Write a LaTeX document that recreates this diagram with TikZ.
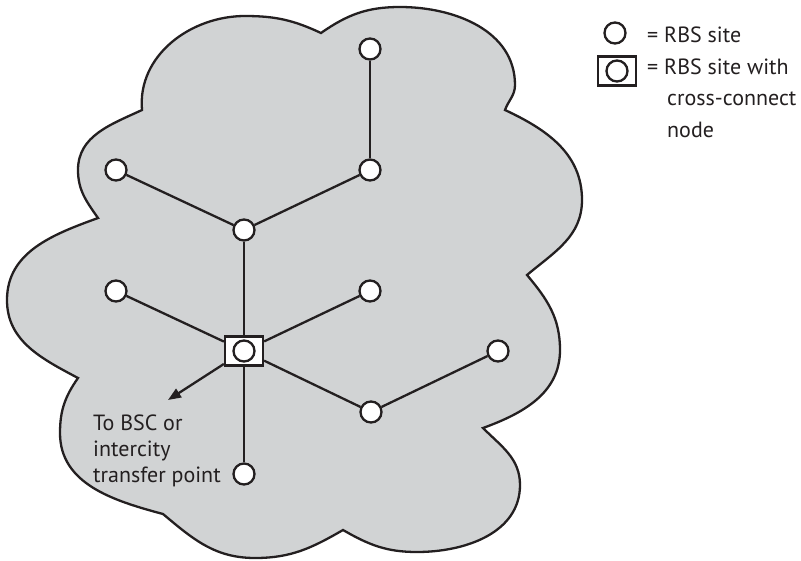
\documentclass[tikz,border=0pt]{standalone}
\usepackage{fontspec}
\setmainfont{PT Sans}
\usetikzlibrary{arrows.meta}
\definecolor{cloudgray}{RGB}{209,211,212}
\definecolor{ink}{RGB}{35,31,32}
\begin{document}
\begin{tikzpicture}[x=1pt,y=-1pt,
  site/.style={circle,draw=ink,fill=white,line width=2.3pt,inner sep=0pt,minimum size=21pt},
  xbox/.style={rectangle,draw=ink,fill=white,line width=2.3pt,inner sep=0pt,minimum width=38pt,minimum height=29pt},
  link/.style={draw=ink,line width=2.3pt},
  txt/.style={text=ink,font=\fontsize{22}{26}\selectfont,inner sep=0pt,anchor=base west}]
\useasboundingbox (0,0) rectangle (801,560);
% cloud
\coordinate (c1) at (142,110);
\coordinate (c2) at (321,33);
\coordinate (c3) at (505,110);
\coordinate (c4) at (527,275);
\coordinate (c5) at (483,428);
\coordinate (c6) at (343,530);
\coordinate (c7) at (163,514);
\coordinate (c8) at (78,378);
\coordinate (c9) at (98,218);
\path[fill=cloudgray,draw=ink,line width=2.3pt,line join=miter]
  (c1) to[out=95,in=180] (245,16) to[out=0,in=155] (c2)
  to[out=35,in=180] (400,7) to[out=0,in=90] (515,85) to[out=-90,in=70] (c3)
  to[out=-25,in=90] (582,200) to[out=-90,in=40] (c4)
  to[out=-50,in=90] (560,350) to[out=-90,in=20] (c5)
  to[out=-45,in=90] (520,485) to[out=-90,in=0] (417,552) to[out=180,in=-30] (c6)
  to[out=-150,in=0] (255,558) to[out=180,in=-40] (c7)
  to[out=165,in=-90] (60,433) to[out=90,in=-125] (c8)
  to[out=152,in=-90] (7,300) to[out=90,in=-160] (c9)
  to[out=125,in=-90] (78,170) to[out=90,in=-155] (c1) -- cycle;
% sites
\node[site] (n1) at (370,49) {};
\node[site] (n2) at (370,170) {};
\node[site] (n3) at (116,170) {};
\node[site] (n4) at (244,230) {};
\node[site] (n5) at (116,291) {};
\node[site] (n6) at (370,291) {};
\node[xbox] (sq) at (244,351) {};
\node[site] (sqc) at (244,351) {};
\node[site] (n7) at (498,351) {};
\node[site] (n8) at (371,412) {};
\node[site] (n9) at (244,474) {};
\coordinate (tip) at (168,400);
% links
\draw[link] (n1) -- (n2);
\draw[link] (n2) -- (n4);
\draw[link] (n3) -- (n4);
\draw[link] (n4) -- (sq);
\draw[link] (n5) -- (sq);
\draw[link] (n6) -- (sq);
\draw[link] (sq) -- (n8);
\draw[link] (n8) -- (n7);
\draw[link] (sq) -- (n9);
\draw[link,-{Triangle[length=13pt,width=10pt]},fill=ink] (sq) -- (tip);
% label
\node[txt] (l1) at (93,430) {To BSC or};
\node[txt] (l2) at (93,456) {intercity};
\node[txt] (l3) at (93,482) {transfer point};
% legend
\node[site] (k1) at (615,33) {};
\node[xbox] (k2) at (617,71) {};
\node[site] (k2c) at (617,71) {};
\node[txt] (t1) at (647,42) {= RBS site};
\node[txt] (t2) at (647,74) {= RBS site with};
\node[txt] (t3) at (667,105) {cross-connect};
\node[txt] (t4) at (667,137) {node};
\end{tikzpicture}
\end{document}
